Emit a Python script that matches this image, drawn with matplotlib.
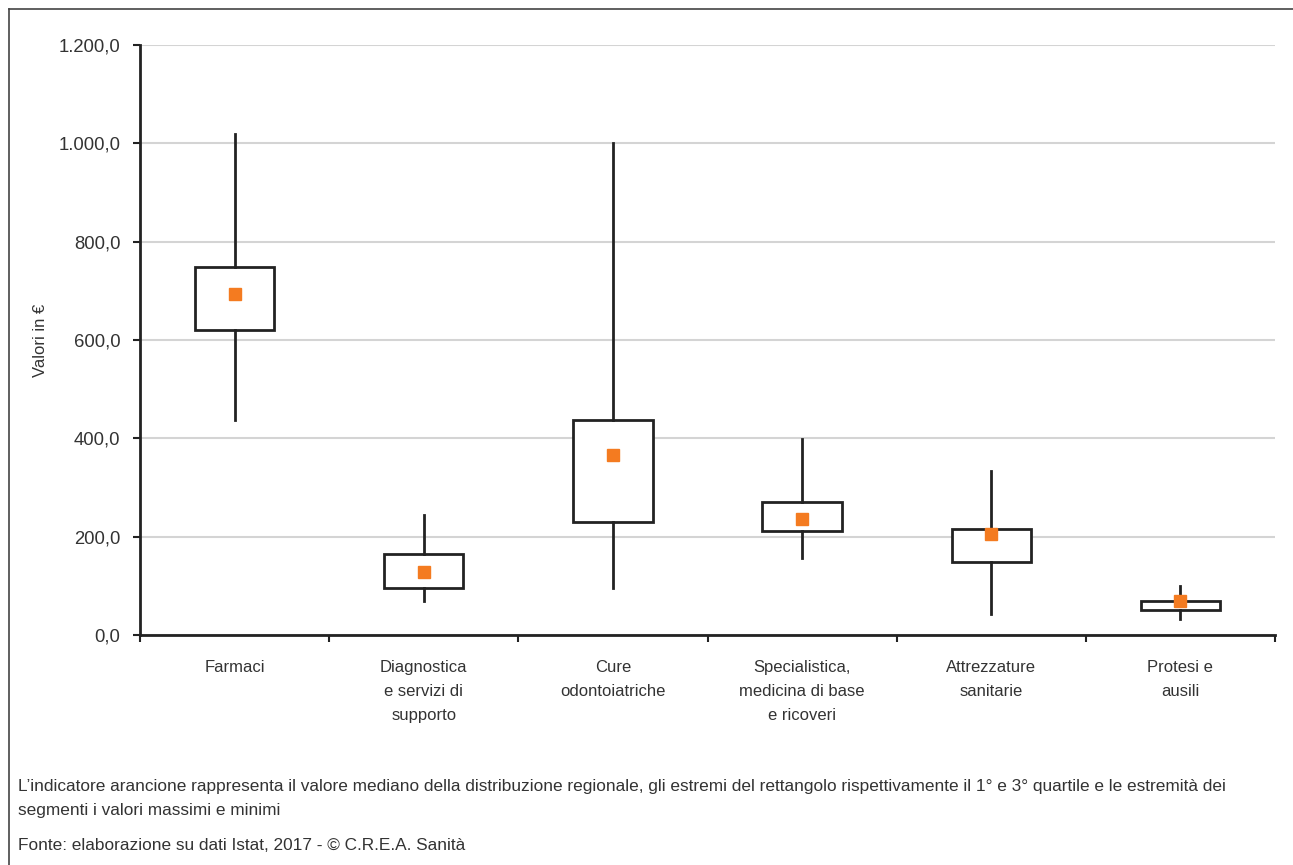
import matplotlib
matplotlib.use("Agg")
import matplotlib.pyplot as plt
from matplotlib.lines import Line2D
from matplotlib.ticker import FuncFormatter

# dati (valori in euro)
categorie = ["Farmaci", "Diagnostica\ne servizi di\nsupporto", "Cure\nodontoiatriche",
             "Specialistica,\nmedicina di base\ne ricoveri", "Attrezzature\nsanitarie", "Protesi e\nausili"]
minimi = [438, 70, 96, 156, 42, 32]
q1 = [620, 96, 230, 211, 149, 50]
mediane = [694, 129, 367, 235, 205, 69]
q3 = [749, 164, 437, 271, 215, 69]
massimi = [1019, 245, 1000, 399, 333, 100]

font = ["Liberation Sans", "DejaVu Sans"]
arancio = "#f47b20"
scuro = "#222222"
testo = "#333333"

fig = plt.figure(figsize=(12.93, 8.65), dpi=100)
ax = fig.add_axes([140/1293, 230/865, 1135/1293, 590/865])

stats = []
for i in range(len(categorie)):
    stats.append({"whislo": minimi[i], "q1": q1[i], "med": mediane[i], "q3": q3[i],
                  "whishi": massimi[i], "fliers": []})
pos = list(range(len(categorie)))
ax.bxp(stats, positions=pos, widths=0.42, showcaps=False, showfliers=False, patch_artist=True,
       boxprops=dict(facecolor="white", edgecolor=scuro, linewidth=2),
       whiskerprops=dict(color=scuro, linewidth=2),
       medianprops=dict(linewidth=0), zorder=3)
ax.plot(pos, mediane, linestyle="none", marker="s", markersize=8, color=arancio, zorder=4)

ax.set_xlim(-0.5, len(categorie) - 0.5)
ax.set_ylim(0, 1200)
ax.set_yticks(range(0, 1201, 200))
ax.yaxis.set_major_formatter(FuncFormatter(lambda v, p: f"{v:,.1f}".replace(",", "X").replace(".", ",").replace("X", ".")))
ax.grid(axis="y", color="#d4d4d4", linewidth=1.5, zorder=0)
ax.set_axisbelow(True)

# tacche tra le categorie, etichette al centro
ax.set_xticks([x + 0.5 for x in pos[:-1]] + [-0.5, len(categorie) - 0.5])
ax.set_xticklabels([])
ax.set_xticks(pos, minor=True)
ax.set_xticklabels(categorie, minor=True, family=font, fontsize=12, color=testo, linespacing=1.75, va="top")
ax.tick_params(axis="x", which="minor", length=0, pad=18)
ax.tick_params(axis="x", which="major", length=5, width=1.5, color=scuro)
ax.tick_params(axis="y", length=5, width=1.5, color=scuro, labelsize=13.3, labelcolor=testo, pad=9,
               labelfontfamily=font)

for s in ["top", "right"]:
    ax.spines[s].set_visible(False)
for s in ["left", "bottom"]:
    ax.spines[s].set_color(scuro)
    ax.spines[s].set_linewidth(2)

ax.set_ylabel("Valori in €", family=font, fontsize=12, color=testo)
ax.yaxis.set_label_coords(-(140 - 48)/1135, 0.5)

# cornice della figura (solo bordo sinistro e superiore)
fig.add_artist(Line2D([9/1293, 9/1293], [0, 1 - 9/865], color="#444444", linewidth=1.2))
fig.add_artist(Line2D([9/1293, 1], [1 - 9/865, 1 - 9/865], color="#444444", linewidth=1.2))

note = ["L’indicatore arancione rappresenta il valore mediano della distribuzione regionale, gli estremi del rettangolo rispettivamente il 1° e 3° quartile e le estremità dei",
        "segmenti i valori massimi e minimi",
        "Fonte: elaborazione su dati Istat, 2017 - © C.R.E.A. Sanità"]
for riga, y in zip(note, [787, 810, 845]):
    fig.text(18/1293, 1 - y/865, riga, family=font, fontsize=12.4, color=testo, va="center")

fig.savefig("out.png", dpi=100)
